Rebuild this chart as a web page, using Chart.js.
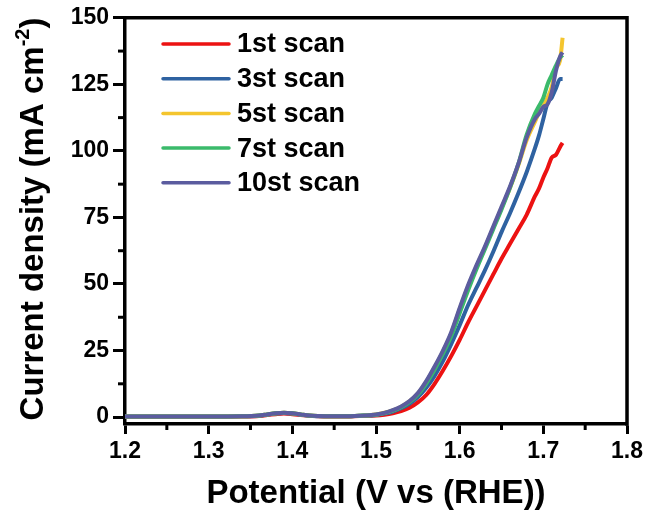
<!DOCTYPE html>
<html>
<head>
<meta charset="utf-8">
<script src="https://cdn.jsdelivr.net/npm/chart.js@4.4.1/dist/chart.umd.min.js"></script>
<style>
  body { margin: 0; background: #fff; }
  .vis-container { width: 647px; height: 515px; }
</style>
</head>
<body>
<div class="vis-container"><canvas id="vis" width="647" height="515"></canvas></div>
<script>

// potential (V vs RHE), shared by all scans
const potential = [1.20, 1.25, 1.30, 1.34, 1.36, 1.37, 1.38, 1.39, 1.40, 1.41, 1.42, 1.44, 1.46, 1.48,
  1.50, 1.51, 1.52, 1.53, 1.54, 1.55, 1.56, 1.57, 1.58, 1.59, 1.60, 1.61, 1.62, 1.63, 1.64, 1.65, 1.66, 1.67, 1.68, 1.69,
  1.695, 1.70, 1.705, 1.71, 1.715, 1.72, 1.723];

// current density (mA cm-2)
const scan1 = [0.1, 0.1, 0.1, 0.2, 0.4, 0.8, 1.1, 1.3, 1.1, 0.8, 0.5, 0.2, 0.2, 0.4,
  0.6, 0.9, 1.4, 2.2, 3.5, 5.5, 8.3, 12.5, 17.5, 23, 29, 35.5, 41.5, 47.5, 53.5, 59.5, 65, 70.5, 76, 83,
  86, 90, 93.5, 97.5, 98.5, 101.5, 103];
const scan3 = [0.2, 0.2, 0.2, 0.3, 0.5, 0.9, 1.3, 1.5, 1.3, 0.9, 0.5, 0.3, 0.3, 0.5,
  0.8, 1.3, 2.1, 3.3, 5.0, 7.5, 11, 15.5, 21, 27.5, 34.5, 42, 48.5, 55, 62, 69.5, 76.5, 84, 92, 101,
  106, 112, 118, 120, 123.5, 127, 127];
const scan5 = [0.2, 0.2, 0.2, 0.3, 0.6, 1.0, 1.4, 1.6, 1.4, 1.0, 0.6, 0.3, 0.3, 0.5,
  1.0, 1.6, 2.5, 3.9, 5.9, 8.8, 13.2, 18.6, 24.6, 31.5, 40.5, 49, 56.5, 63.5, 71, 78.5, 86, 94.5, 104, 111,
  114.5, 117, 120, 124, 131, 134, 142.5];
const scan7 = [0.2, 0.2, 0.2, 0.3, 0.6, 1.0, 1.4, 1.6, 1.4, 1.0, 0.6, 0.3, 0.3, 0.5,
  0.9, 1.5, 2.4, 3.7, 5.6, 8.4, 12.6, 17.8, 23.8, 30.5, 39, 47.5, 55.5, 63, 70.5, 78, 86, 95, 106, 114,
  117, 120, 125, 128.5, 132, 135, 136];
const scan10 = [0.2, 0.2, 0.2, 0.3, 0.6, 1.0, 1.4, 1.6, 1.4, 1.0, 0.6, 0.3, 0.3, 0.5,
  1.0, 1.6, 2.6, 4.0, 6.0, 9.0, 13.5, 19, 25, 32, 41, 49.5, 57, 64, 71.5, 79, 86.5, 95, 105, 112,
  114, 116.5, 117.5, 122, 130, 135.5, 137];

const labels = ['1st scan', '3st scan', '5st scan', '7st scan', '10st scan'];
const colors = ['#ec1212', '#2f62a1', '#f4c52e', '#3bba6b', '#5b5c9f'];
const series = [scan1, scan3, scan5, scan7, scan10];

const xTicks = [1.2, 1.3, 1.4, 1.5, 1.6, 1.7, 1.8];
const yTicks = [0, 25, 50, 75, 100, 125, 150];

const xTitle = 'Potential (V vs (RHE))';
const yTitle = 'Current density (mA cm';
const yTitleSup = '-2';

const FONT = '"Liberation Sans", Arial, sans-serif';

// box, minor ticks, axis titles and legend
const decorations = {
  id: 'decorations',
  afterDraw(chart) {
    const ctx = chart.ctx;
    const a = chart.chartArea;
    const xs = chart.scales.x;
    const ys = chart.scales.y;

    ctx.save();
    ctx.strokeStyle = '#000';
    ctx.lineWidth = 3.5;
    ctx.beginPath();
    ctx.moveTo(a.left - 1.75, a.top);
    ctx.lineTo(a.right, a.top);
    ctx.lineTo(a.right, a.bottom + 1.75);
    ctx.stroke();

    // minor ticks
    ctx.lineWidth = 3;
    for (let i = 0; i < xTicks.length - 1; i++) {
      const px = xs.getPixelForValue((xTicks[i] + xTicks[i + 1]) / 2);
      ctx.beginPath();
      ctx.moveTo(px, a.bottom);
      ctx.lineTo(px, a.bottom + 6);
      ctx.stroke();
    }
    for (let i = 0; i < yTicks.length - 1; i++) {
      const py = ys.getPixelForValue((yTicks[i] + yTicks[i + 1]) / 2);
      ctx.beginPath();
      ctx.moveTo(a.left, py);
      ctx.lineTo(a.left - 7, py);
      ctx.stroke();
    }

    ctx.fillStyle = '#000';

    // x title
    ctx.font = 'bold 33px ' + FONT;
    ctx.textAlign = 'center';
    ctx.textBaseline = 'alphabetic';
    ctx.fillText(xTitle, (a.left + a.right) / 2, 503);

    // y title, rotated, with superscript
    ctx.save();
    ctx.translate(43, 219);
    ctx.rotate(-Math.PI / 2);
    ctx.font = 'bold 33px ' + FONT;
    const w1 = ctx.measureText(yTitle).width;
    ctx.font = 'bold 20px ' + FONT;
    const w2 = ctx.measureText(yTitleSup).width;
    ctx.font = 'bold 33px ' + FONT;
    const w3 = ctx.measureText(')').width;
    let x0 = -(w1 + w2 + w3) / 2;
    ctx.textAlign = 'left';
    ctx.fillText(yTitle, x0, 0);
    ctx.font = 'bold 20px ' + FONT;
    ctx.fillText(yTitleSup, x0 + w1, -14);
    ctx.font = 'bold 33px ' + FONT;
    ctx.fillText(')', x0 + w1 + w2, 0);
    ctx.restore();

    // legend
    ctx.font = 'bold 27px ' + FONT;
    ctx.textAlign = 'left';
    ctx.textBaseline = 'middle';
    chart.data.datasets.forEach((ds, i) => {
      const y = 44 + i * 34.7;
      ctx.strokeStyle = ds.borderColor;
      ctx.lineWidth = 3.5;
      ctx.lineCap = 'round';
      ctx.beginPath();
      ctx.moveTo(163, y);
      ctx.lineTo(229, y);
      ctx.stroke();
      ctx.fillText(ds.label, 237, y + 1);
    });

    ctx.restore();
  }
};

const datasets = series.map((values, i) => ({
  label: labels[i],
  data: potential.map((v, j) => ({ x: v, y: values[j] })),
  borderColor: colors[i],
  backgroundColor: colors[i],
  borderWidth: 4,
  pointRadius: 0,
  cubicInterpolationMode: 'monotone',
  order: series.length - i
}));

new Chart(document.getElementById('vis'), {
  type: 'line',
  data: { datasets },
  options: {
    responsive: false,
    animation: false,
    layout: { padding: { top: 15, right: 17, left: 0, bottom: 0 } },
    plugins: { legend: { display: false }, tooltip: { enabled: false } },
    scales: {
      x: {
        type: 'linear',
        min: 1.2,
        max: 1.8,
        afterFit: s => { s.height = 91; },
        afterBuildTicks: s => { s.ticks = xTicks.map(v => ({ value: v })); },
        ticks: {
          color: '#000',
          font: { family: FONT, size: 23, weight: 'bold' },
          padding: 4,
          maxRotation: 0,
          callback: v => v.toFixed(1)
        },
        grid: { drawOnChartArea: false, tickLength: 10, tickWidth: 3, tickColor: '#000' },
        border: { color: '#000', width: 3.5 }
      },
      y: {
        min: -2.6,
        max: 150,
        afterFit: s => { s.width = 125; },
        afterBuildTicks: s => { s.ticks = yTicks.map(v => ({ value: v })); },
        ticks: {
          color: '#000',
          font: { family: FONT, size: 23, weight: 'bold' },
          padding: 4
        },
        grid: { drawOnChartArea: false, tickLength: 12, tickWidth: 3, tickColor: '#000' },
        border: { color: '#000', width: 3.5 }
      }
    }
  },
  plugins: [decorations]
});

</script>
</body>
</html>
